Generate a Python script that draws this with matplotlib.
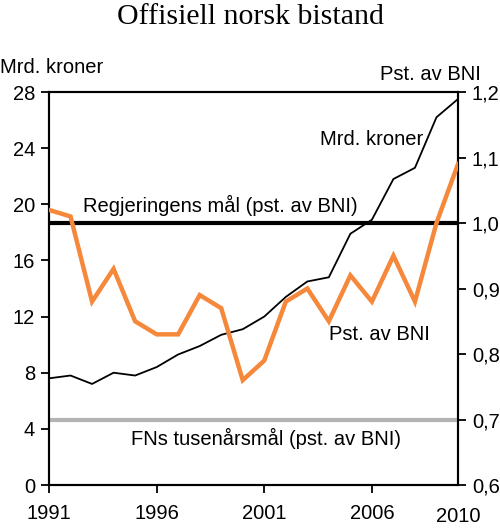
import matplotlib
matplotlib.use("Agg")
import matplotlib.pyplot as plt

years = list(range(1991, 2011))
mrd_kroner = [7.6, 7.8, 7.2, 8.0, 7.8, 8.4, 9.3, 9.9, 10.7, 11.1,
              12.0, 13.4, 14.5, 14.8, 17.9, 18.9, 21.8, 22.6, 26.2, 27.5]
pst_bni = [1.02, 1.01, 0.88, 0.93, 0.85, 0.83, 0.83, 0.89, 0.87, 0.76,
           0.79, 0.88, 0.90, 0.85, 0.92, 0.88, 0.95, 0.88, 1.00, 1.09]
regjeringens_maal = 1.0
fn_maal = 0.7
left_ticks = [0, 4, 8, 12, 16, 20, 24, 28]
right_ticks = [0.6, 0.7, 0.8, 0.9, 1.0, 1.1, 1.2]
right_labels = ["0,6", "0,7", "0,8", "0,9", "1,0", "1,1", "1,2"]
x_ticks = [1991, 1996, 2001, 2006]

plt.rcParams['font.family'] = ['Liberation Sans', 'DejaVu Sans']
FS = 14.5

fig = plt.figure(figsize=(5.0, 5.3), dpi=100)
ax = fig.add_axes([0.098, 0.0849, 0.818, 0.7415])
ax2 = ax.twinx()

ax.set_xlim(1991, 2010)
ax.set_ylim(0, 28)
ax2.set_ylim(0.6, 1.2)

ax.plot(years, mrd_kroner, color='black', lw=1.3, zorder=3)
ax2.axhline(regjeringens_maal, color='black', lw=3, zorder=2)
ax2.axhline(fn_maal, color='#b3b3b3', lw=3, zorder=2)
ax2.plot(years, pst_bni, color='#f5883a', lw=3.2, zorder=4, solid_joinstyle='miter')

ax.set_yticks(left_ticks)
ax.set_yticklabels([str(v) for v in left_ticks])
ax2.set_yticks(right_ticks)
ax2.set_yticklabels(right_labels)
ax.set_xticks(x_ticks)
ax.set_xticklabels([str(v) for v in x_ticks])
ax.set_xticks([2010], minor=True)
ax.set_xticklabels(["2010"], minor=True)
ax.tick_params(axis='x', which='minor', length=0, pad=16, labelsize=FS)

ax.tick_params(axis='both', which='major', direction='out', length=6, width=1.3,
               labelsize=FS, colors='black')
ax.tick_params(axis='x', which='major', pad=8)
ax.tick_params(axis='y', which='major', pad=4)
ax2.tick_params(axis='y', direction='out', length=6, width=1.3, labelsize=FS, pad=4)

for a in (ax, ax2):
    for s in a.spines.values():
        s.set_linewidth(1.5)
        s.set_color('black')

ax.text(1992.6, 19.95, "Regjeringens mål (pst. av BNI)", fontsize=FS, ha='left', va='center')
ax.text(2003.6, 24.6, "Mrd. kroner", fontsize=FS, ha='left', va='center')
ax.text(2004.0, 10.7, "Pst. av BNI", fontsize=FS, ha='left', va='center')
ax.text(1994.8, 3.3, "FNs tusenårsmål (pst. av BNI)", fontsize=FS, ha='left', va='center')

fig.text(0.5, 0.968, "Offisiell norsk bistand", fontsize=21.5, ha='center', va='center',
         family=['Liberation Serif', 'DejaVu Serif'])
fig.text(0.0, 0.872, "Mrd. kroner", fontsize=FS, ha='left', va='center')
fig.text(0.962, 0.859, "Pst. av BNI", fontsize=FS, ha='right', va='center')

fig.savefig("out.png", dpi=100)
